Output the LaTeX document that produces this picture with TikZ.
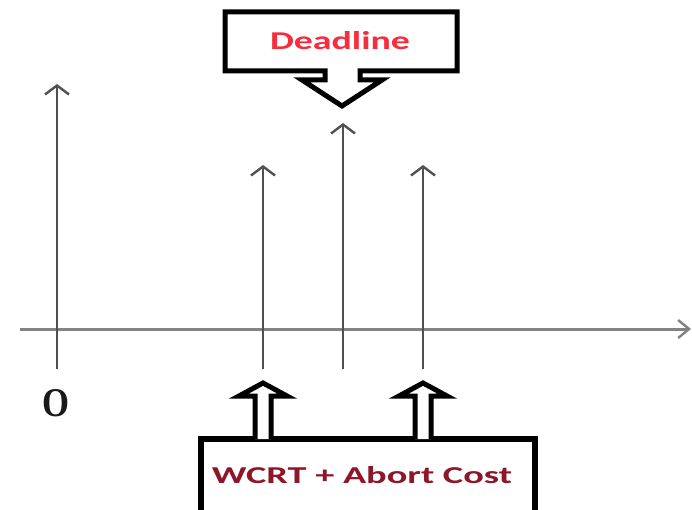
\documentclass[tikz,border=0pt]{standalone}
\usepackage{fontspec}
\usetikzlibrary{arrows.meta}
\setmainfont{Liberation Serif}
\newfontfamily\labelfont{Carlito}
\definecolor{deadred}{RGB}{245,45,60}
\definecolor{costred}{RGB}{140,22,42}
\definecolor{tickgray}{RGB}{80,80,80}
\definecolor{axisgray}{RGB}{130,130,130}
\begin{document}
\begin{tikzpicture}[x=1pt,y=-1pt,
  timeline/.style={draw=tickgray,line width=2.6pt,
    -{Straight Barb[length=9pt,width=24pt,line width=2.4pt]}},
  axisline/.style={draw=axisgray,line width=3pt,
    -{Straight Barb[length=11pt,width=18pt,line width=2.4pt]}},
  blockarrow/.style={draw=black,line width=5pt,fill=white,line join=miter},
  boxline/.style={draw=black,line width=5.5pt},
  every node/.style={inner sep=0pt,outer sep=0pt}]
\useasboundingbox (0,0) rectangle (692,510);
\clip (0,0) rectangle (692,510);

% time axis
\coordinate (axL) at (20,329);
\coordinate (axR) at (691,329);
\draw[axisline] (axL) -- (axR);

% release instants on the time line
\coordinate (r0b) at (57,369);  \coordinate (r0t) at (57,84);
\coordinate (r1b) at (263,369); \coordinate (r1t) at (263,165);
\coordinate (r2b) at (343,369); \coordinate (r2t) at (343,123);
\coordinate (r3b) at (423,369); \coordinate (r3t) at (423,165);
\draw[timeline] (r0b) -- (r0t);
\draw[timeline] (r1b) -- (r1t);
\draw[timeline] (r2b) -- (r2t);
\draw[timeline] (r3b) -- (r3t);

\node[anchor=base,text=black!90] (origin) at (56,416)
  {\resizebox{27pt}{27pt}{\bfseries O}};

% deadline callout with its downward pointer
\draw[blockarrow] (225,12) -- (457,12) -- (457,71) -- (360,71) -- (360,80)
  -- (382,80) -- (342,106) -- (302,80) -- (325,80) -- (325,71) -- (225,71) -- cycle;
\node[anchor=base,text=deadred] (deadline) at (340,50)
  {\resizebox{140pt}{18pt}{\labelfont\bfseries Deadline}};

% cost box at the bottom
\coordinate (cbL) at (201,520);
\coordinate (cbR) at (535,520);
\draw[boxline] (cbL) -- (201,439) -- (535,439) -- (cbR);
\node[anchor=base,text=costred] (cost) at (362,483)
  {\resizebox{300pt}{17pt}{\labelfont\bfseries WCRT + Abort Cost}};

% hollow arrows rising from the cost box
\draw[blockarrow,fill=white] (255,439) -- (255,396) -- (239,396) -- (263,383)
  -- (287,396) -- (271,396) -- (271,439);
\draw[blockarrow,fill=white] (415,439) -- (415,396) -- (399,396) -- (423,383)
  -- (447,396) -- (431,396) -- (431,439);
\end{tikzpicture}
\end{document}
